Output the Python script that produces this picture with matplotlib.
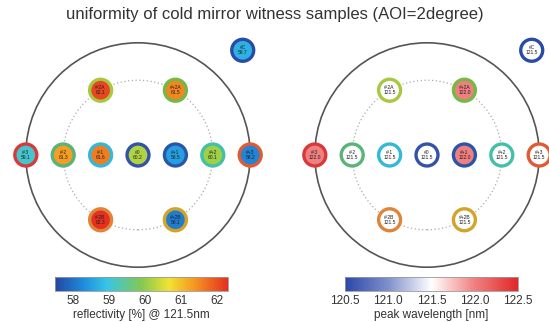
import numpy as np
import matplotlib.pyplot as plt
from matplotlib.colors import LinearSegmentedColormap, Normalize
from matplotlib.patches import Circle

plt.rcParams['font.family'] = ['Liberation Sans', 'DejaVu Sans']

# witness samples: name, position on the mirror (in sample pitch units)
names = ["#-3", "#-2", "#-1", "#0", "#+1", "#+2", "#+3",
         "#-2A", "#+2A", "#-2B", "#+2B", "#C"]
pos_x = [-3, -2, -1, 0, 1, 2, 3, -1, 1, -1, 1, 2.8]
pos_y = [0, 0, 0, 0, 0, 0, 0, 1.732, 1.732, -1.732, -1.732, 2.8]

reflectivity = [59.1, 61.3, 61.6, 60.2, 58.5, 60.1, 58.2,
                62.1, 61.5, 62.3, 58.1, 58.7]
peak_wl = [122.0, 121.5, 121.5, 121.5, 122.0, 121.5, 121.5,
           121.5, 122.0, 121.5, 121.5, 121.5]

# identifying ring colour for each sample
ring_colors = ["#d83a3a", "#58b478", "#34b8d8", "#3452a8", "#2a56a8", "#44c0a8",
               "#e05a34", "#a8c840", "#74b846", "#e0843a", "#d4a428", "#2a4aa8"]

refl_cmap = LinearSegmentedColormap.from_list(
    "refl", [(0.0, "#2446a0"), (0.17, "#1f8fe0"), (0.3, "#36c6e6"),
             (0.5, "#84c850"), (0.66, "#f2e232"), (0.8, "#f59a22"), (1.0, "#e5301f")])
wl_cmap = LinearSegmentedColormap.from_list(
    "wl", ["#2a48a8", "#8090cc", "#ffffff", "#f08080", "#e02828"])

refl_norm = Normalize(57.5, 62.3)
wl_norm = Normalize(120.5, 122.5)

W, H = 549, 322
fig = plt.figure(figsize=(W / 100, H / 100), dpi=100)


def px_axes(x, y, w, h):
    return fig.add_axes([x / W, 1 - (y + h) / H, w / W, h / H])


unit = 37.4


def mirror_panel(cx, values, cmap, norm, fmt):
    ax = px_axes(cx - 3.7 * unit, 155 - 4.1 * unit, 7.4 * unit, 7.6 * unit)
    ax.set_xlim(-3.7, 3.7)
    ax.set_ylim(-3.5, 4.1)
    ax.set_aspect("equal")
    ax.axis("off")
    ax.add_patch(Circle((0, 0), 3, fill=False, ec="#555555", lw=1.2, zorder=1))
    ax.add_patch(Circle((0, 0), 2, fill=False, ec="#aaaaaa", lw=0.9,
                        ls=(0, (1, 2)), zorder=1))
    ax.scatter(pos_x, pos_y, s=250, c=values, cmap=cmap, norm=norm,
               edgecolors=ring_colors, linewidths=2.4, zorder=3, clip_on=False)
    for n, x, y, v in zip(names, pos_x, pos_y, values):
        ax.text(x, y, f"{n}\n{v:{fmt}}", ha="center", va="center",
                fontsize=3.6, color="#222222", linespacing=1.1, zorder=4)
    return ax


mirror_panel(138, reflectivity, refl_cmap, refl_norm, ".1f")
mirror_panel(427, peak_wl, wl_cmap, wl_norm, ".1f")


def colorbar(x, cmap, norm, ticks, fmt, label):
    cax = px_axes(x, 277, 173, 14)
    cb = fig.colorbar(plt.cm.ScalarMappable(norm=norm, cmap=cmap), cax=cax,
                      orientation="horizontal", ticks=ticks)
    cb.outline.set_edgecolor("#999999")
    cb.outline.set_linewidth(0.6)
    cax.tick_params(length=0, labelsize=8.5, labelcolor="#333333", pad=3)
    cax.set_xticklabels([format(t, fmt) for t in ticks])
    cb.set_label(label, fontsize=8.5, color="#333333", labelpad=1)


colorbar(55, refl_cmap, refl_norm, [58, 59, 60, 61, 62], ".0f",
         "reflectivity [%] @ 121.5nm")
colorbar(345, wl_cmap, wl_norm, [120.5, 121.0, 121.5, 122.0, 122.5], ".1f",
         "peak wavelength [nm]")

fig.text(275 / W, 1 - 15 / H, "uniformity of cold mirror witness samples (AOI=2degree)",
         ha="center", va="center", fontsize=12, color="#333333")

fig.savefig("out.png", dpi=100)
